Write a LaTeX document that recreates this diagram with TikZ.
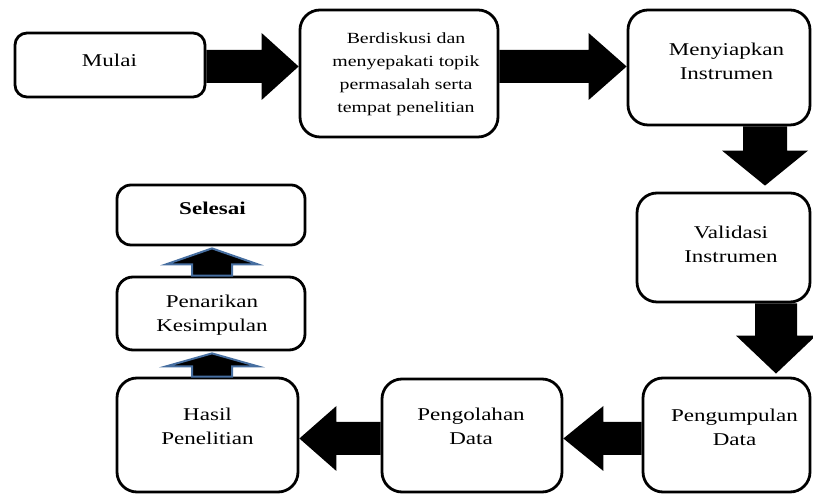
\documentclass[tikz,border=0pt]{standalone}
\usepackage{fontspec}
\setmainfont[FakeStretch=1.28]{Liberation Serif}
\usetikzlibrary{calc}
\definecolor{arrowblue}{RGB}{70,110,160}
\tikzset{
  box/.style={draw=black, line width=2.8pt, rounded corners=20pt, fill=white, inner sep=0pt},
  lbl/.style={font=\fontsize{18}{24}\selectfont, align=center, inner sep=0pt},
  blk/.style={fill=black},
  upar/.style={fill=black, draw=arrowblue, line width=2pt, line join=miter},
}
\newcommand\rblock[5]{\fill[blk] ($(#1)+(0,#3)$) -- ($(#2)+(-#5,#3)$) -- ($(#2)+(-#5,#4)$) -- (#2) -- ($(#2)+(-#5,-#4)$) -- ($(#2)+(-#5,-#3)$) -- ($(#1)+(0,-#3)$) -- cycle;}
\newcommand\lblock[5]{\fill[blk] ($(#1)+(0,#3)$) -- ($(#2)+(#5,#3)$) -- ($(#2)+(#5,#4)$) -- (#2) -- ($(#2)+(#5,-#4)$) -- ($(#2)+(#5,-#3)$) -- ($(#1)+(0,-#3)$) -- cycle;}
\newcommand\dblock[5]{\fill[blk] ($(#1)+(#3,0)$) -- ($(#2)+(#3,#5)$) -- ($(#2)+(#4,#5)$) -- (#2) -- ($(#2)+(-#4,#5)$) -- ($(#2)+(-#3,#5)$) -- ($(#1)+(-#3,0)$) -- cycle;}
\newcommand\ublock[5]{\filldraw[upar] ($(#1)+(#3,0)$) -- ($(#2)+(#3,-#5)$) -- ($(#2)+(#4,-#5)$) -- (#2) -- ($(#2)+(-#4,-#5)$) -- ($(#2)+(-#3,-#5)$) -- ($(#1)+(-#3,0)$) -- cycle;}
\begin{document}
\begin{tikzpicture}[x=1pt,y=1pt]
\useasboundingbox (0,0) rectangle (813,494);
% boxes
\node[box, minimum width=190pt, minimum height=64pt, rounded corners=12pt] (m) at (110,429) {};
\node[box, minimum width=198pt, minimum height=127pt] (b) at (399,420.5) {};
\node[box, minimum width=182pt, minimum height=115pt] (s) at (719,426.5) {};
\node[box, minimum width=173pt, minimum height=109pt] (v) at (723.5,246.5) {};
\node[box, minimum width=167pt, minimum height=114pt] (p) at (726.5,59) {};
\node[box, minimum width=180pt, minimum height=113pt] (o) at (472,58.5) {};
\node[box, minimum width=181pt, minimum height=114pt] (h) at (207.5,59) {};
\node[box, minimum width=188pt, minimum height=73pt, rounded corners=16pt] (k) at (211,180.5) {};
\node[box, minimum width=188pt, minimum height=60pt, rounded corners=14pt] (e) at (211,279) {};
% labels
\node[lbl] (tm) at (109.5,434) {Mulai};
\node[lbl, font=\fontsize{15.5}{23}\selectfont] (tb) at (406,419.5) {Berdiskusi dan\\menyepakati topik\\permasalah serta\\tempat penelitian};
\node[lbl] (ts) at (726.5,433) {Menyiapkan\\Instrumen};
\node[lbl] (tv) at (731,250) {Validasi\\Instrumen};
\node[lbl] (tp) at (734.5,66.5) {Pengumpulan\\Data};
\node[lbl] (to) at (471,68) {Pengolahan\\Data};
\node[lbl] (th) at (207.5,67.5) {Hasil\\Penelitian};
\node[lbl] (tk) at (212,179) {Penarikan\\Kesimpulan};
\node[lbl, font=\bfseries\fontsize{18}{24}\selectfont] (te) at (212.5,286) {Selesai};
% connector end points
\coordinate (a1s) at (m.east |- 0,427.5);
\coordinate (a1t) at (b.west |- 0,427.5);
\coordinate (a2s) at (b.east |- 0,427.5);
\coordinate (a2t) at (s.west |- 0,427.5);
\coordinate (a3s) at (s.south -| 765,0);
\coordinate (a3t) at ($(v.north -| 765,0)+(0,6)$);
\coordinate (a4s) at (v.south -| 776,0);
\coordinate (a4t) at ($(p.north -| 776,0)+(0,3)$);
\coordinate (a5s) at (p.west |- 0,55.5);
\coordinate (a5t) at (o.east |- 0,55.5);
\coordinate (a6s) at (o.west |- 0,55.5);
\coordinate (a6t) at (h.east |- 0,55.5);
\coordinate (a7s) at (h.north -| 212,0);
\coordinate (a7t) at ($(k.south -| 212,0)+(0,-2)$);
\coordinate (a8s) at (k.north -| 212,0);
\coordinate (a8t) at ($(e.south -| 212,0)+(0,-2)$);
% block arrows
\rblock{a1s}{a1t}{16.5}{33.5}{37}
\rblock{a2s}{a2t}{16.5}{33.5}{38}
\dblock{a3s}{a3t}{22}{43}{35}
\dblock{a4s}{a4t}{21}{40}{38}
\lblock{a5s}{a5t}{16.5}{32.5}{40}
\lblock{a6s}{a6t}{16.5}{32.5}{37}
\ublock{a7s}{a7t}{20}{46}{13}
\ublock{a8s}{a8t}{20}{46}{16}
\end{tikzpicture}
\end{document}
